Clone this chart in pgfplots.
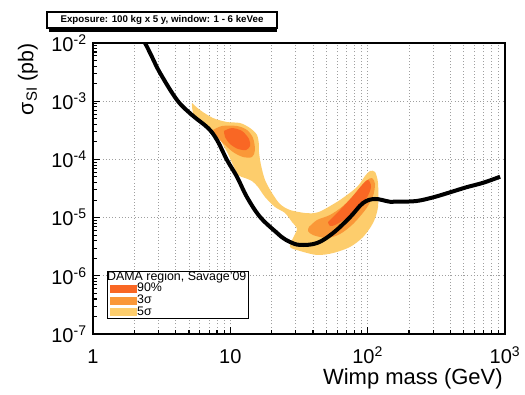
\documentclass[border=0pt]{standalone}
\usepackage{pgfplots}
\pgfplotsset{compat=1.18}
\usepackage{fontspec}
\setmainfont{Liberation Sans}
\definecolor{cninety}{RGB}{249,103,36}
\definecolor{cthree}{RGB}{250,152,56}
\definecolor{cfive}{RGB}{253,205,108}
\begin{document}
\begin{tikzpicture}
\useasboundingbox (-69.75pt,-45pt) rectangle (324pt,250.5pt);
\begin{axis}[
  at={(0,0)}, anchor=south west,
  width=309pt, height=218.25pt, scale only axis,
  xmode=log, ymode=log,
  xmin=1, xmax=1000, ymin=1e-7, ymax=1e-2,
  xtick={1,10,100,1000},
  xticklabels={1,10,10\textsuperscript{2},10\textsuperscript{3}},
  ytick={1e-7,1e-6,1e-5,1e-4,1e-3,1e-2},
  yticklabels={10\textsuperscript{-7},10\textsuperscript{-6},10\textsuperscript{-5},10\textsuperscript{-4},10\textsuperscript{-3},10\textsuperscript{-2}},
  minor xtick={2,3,4,5,6,7,8,9,20,30,40,50,60,70,80,90,200,300,400,500,600,700,800,900},
  minor ytick={2e-7,3e-7,4e-7,5e-7,6e-7,7e-7,8e-7,9e-7,2e-6,3e-6,4e-6,5e-6,6e-6,7e-6,8e-6,9e-6,2e-5,3e-5,4e-5,5e-5,6e-5,7e-5,8e-5,9e-5,2e-4,3e-4,4e-4,5e-4,6e-4,7e-4,8e-4,9e-4,2e-3,3e-3,4e-3,5e-3,6e-3,7e-3,8e-3,9e-3},
  xmajorgrids, xminorgrids, ymajorgrids, yminorgrids=false,
  grid style={dash pattern=on 0.8pt off 1.6pt, gray!75, line width=0.55pt},
  minor grid style={dash pattern=on 0.8pt off 1.6pt, gray!75, line width=0.55pt},
  tick align=inside, tick pos=left,
  major tick length=5.5pt, minor tick length=3pt,
  axis line style={line width=1.1pt},
  every tick/.style={black, line width=0.8pt},
  tick label style={font=\fontsize{15}{15}\selectfont},
  xticklabel style={anchor=base, yshift=-21.75pt},
  yticklabel style={inner sep=4.5pt},
  xlabel={Wimp mass (GeV)},
  xlabel style={at={(rel axis cs:1,0)}, anchor=north east, yshift=-26pt, xshift=-1.5pt, inner sep=0pt, font=\fontsize{16.5}{16.5}\selectfont},
  legend cell align=left,
  legend image code/.code={\fill[#1] (0pt,-2.6pt) rectangle (19.5pt,2.6pt);},
  legend style={at={(rel axis cs:0.034,0.2165)}, anchor=north west, draw=black, line width=0.8pt, fill=white,
    font=\fontsize{9.3}{9.3}\selectfont, inner xsep=1.5pt, inner ysep=0.3pt, row sep=0.5pt,
    nodes={inner sep=0.4pt, text height=5.9pt, text depth=1.5pt}},
]
% 5 sigma
\addplot[fill=cfive, draw=none, smooth, tension=0.5, forget plot] coordinates {
(5.26,9.31e-4) (6.01,7.06e-4) (7.48,5.14e-4) (9.46,4.39e-4) (11.76,4.22e-4) (13.91,3.46e-4)
(15.64,2.63e-4) (16.17,1.77e-4) (16.17,1.34e-4) (16.72,8.01e-5) (17.89,4.43e-5) (20.11,2.65e-5)
(23.0,1.71e-5) (27.2,1.35e-5) (34.98,1.20e-5) (41.36,1.20e-5) (47.3,1.35e-5) (62.9,2.01e-5)
(83.6,3.36e-5) (95.6,5.19e-5) (104.0,6.32e-5) (113.1,6.07e-5) (118.9,3.93e-5) (118.9,1.52e-5)
(109.4,8.08e-6) (92.5,4.64e-6) (74.4,3.13e-6) (55.92,2.46e-6) (42.77,2.28e-6) (32.17,2.67e-6)
(27.2,3.13e-6) (28.6,4.46e-6) (30.58,6.37e-6) (28.12,8.40e-6) (25.01,1.20e-5) (21.15,1.52e-5)
(17.89,2.26e-5) (15.91,3.36e-5) (14.38,4.25e-5) (12.79,4.79e-5) (11.38,5.40e-5) (10.46,8.01e-5)
(9.46,1.34e-4) (8.0,2.63e-4) (6.54,3.90e-4) (5.72,4.57e-4) (5.35,6.27e-4) (5.26,8.27e-4) (5.26,9.31e-4)
} -- cycle;
% 3 sigma, left
\addplot[fill=cthree, draw=none, smooth, tension=0.5, forget plot] coordinates {
(7.48,3.20e-4) (8.70,3.75e-4) (11.19,3.75e-4) (13.23,3.20e-4) (14.63,2.33e-4) (15.12,1.45e-4)
(14.38,1.10e-4) (12.37,1.10e-4) (10.46,1.34e-4) (8.84,1.91e-4) (7.73,2.63e-4) (7.48,3.20e-4)
} -- cycle;
% 3 sigma, right
\addplot[fill=cthree, draw=none, smooth, tension=0.5, forget plot] coordinates {
(37.4,6.90e-6) (42.77,9.09e-6) (53.18,1.11e-5) (66.1,1.58e-5) (83.6,2.75e-5) (97.2,4.25e-5)
(107.5,4.79e-5) (113.1,3.78e-5) (109.4,2.35e-5) (97.2,1.41e-5) (78.2,7.76e-6) (62.9,5.23e-6)
(50.57,4.46e-6) (40.0,5.02e-6) (36.78,5.89e-6) (37.4,6.90e-6)
} -- cycle;
% 90%, left
\addplot[fill=cninety, draw=none, smooth, tension=0.5, forget plot] coordinates {
(8.99,3.08e-4) (10.28,3.46e-4) (12.16,3.08e-4) (13.68,2.24e-4) (13.91,1.70e-4) (13.0,1.45e-4)
(11.38,1.51e-4) (9.95,1.84e-4) (9.15,2.43e-4) (8.99,3.08e-4)
} -- cycle;
% 90%, right
\addplot[fill=cninety, draw=none, smooth, tension=0.5, forget plot] coordinates {
(51.43,8.40e-6) (62.9,1.35e-5) (76.9,2.26e-5) (90.9,3.63e-5) (100.6,4.43e-5) (105.8,3.36e-5)
(97.2,2.09e-5) (76.9,1.15e-5) (59.8,7.76e-6) (53.18,7.17e-6) (51.43,8.40e-6)
} -- cycle;
% sensitivity curve
\addplot[black, line width=3pt, smooth, tension=0.6, forget plot] coordinates {
(2.25,1.11e-2) (2.39,1.0e-2) (2.69,5.75e-3) (3.08,3.05e-3) (4.09,1.05e-3) (5.26,5.79e-4)
(6.88,3.46e-4) (8.0,2.15e-4) (9.46,9.76e-5) (11.2,4.99e-5) (13.2,2.26e-5) (16.5,1.02e-5)
(21.9,5.44e-6) (24.2,4.47e-6) (27.2,3.81e-6) (32.2,3.39e-6) (42.8,3.66e-6) (56,5.44e-6)
(74.5,1.02e-5) (92.5,1.78e-5) (113,2.09e-5) (146,1.87e-5) (172,1.88e-5) (227,1.93e-5)
(300,2.23e-5) (398,2.72e-5) (523,3.32e-5) (696,3.98e-5) (921,5.04e-5)
};
\addlegendimage{empty legend}
\addlegendentry{\hspace*{-22.5pt}DAMA region, Savage'09}
\addlegendimage{cninety}
\addlegendentry{90\%}
\addlegendimage{cthree}
\addlegendentry{3σ}
\addlegendimage{cfive}
\addlegendentry{5σ}
\end{axis}
\node[rotate=90, anchor=south east, inner sep=0pt, font=\fontsize{16}{16}\selectfont] at (-41.25pt,218.25pt) {σ\textsubscript{SI} (pb)};
\fill[black] (-33.0pt,226.5pt) rectangle (138.0pt,238.5pt);
\node[draw=black, line width=0.9pt, fill=white, minimum width=172.5pt, minimum height=12pt, inner sep=0pt,
  font=\fontsize{7.3}{8}\selectfont\bfseries] at (51.75pt,235.5pt) {Exposure: 100 kg x 5 y, window: 1 - 6 keVee};
\end{tikzpicture}
\end{document}
